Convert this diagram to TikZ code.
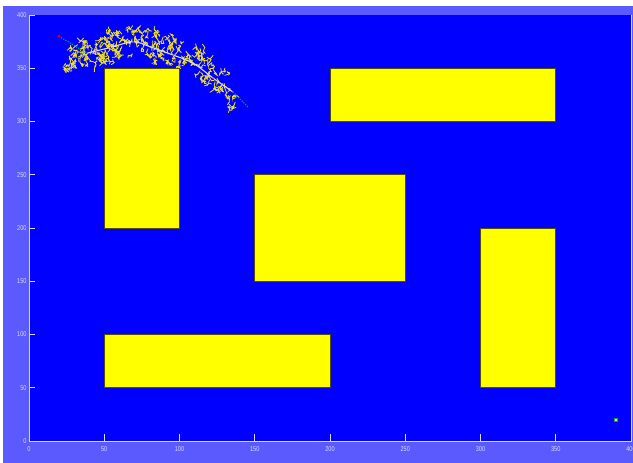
\documentclass[tikz,border=0pt]{standalone}
\usepackage{fontspec}
\newfontfamily\tickfont[FakeStretch=0.8]{Liberation Sans}
\definecolor{outerbg}{RGB}{90,90,255}
\definecolor{plotbg}{RGB}{0,0,255}
\definecolor{axisc}{RGB}{215,215,255}
\definecolor{obst}{RGB}{255,255,0}
\definecolor{obstedge}{RGB}{80,80,0}
\definecolor{treec}{RGB}{235,225,40}
\definecolor{pathg}{RGB}{0,170,90}
\tikzset{
  obstacle/.style={fill=obst, draw=obstedge, line width=0.6pt},
  axisline/.style={draw=axisc, line width=0.6pt},
  ticklabel/.style={text=axisc, font=\tickfont\fontsize{7}{8}\selectfont, inner sep=0pt},
  treeline/.style={draw=treec, line width=0.8pt, line cap=round},
  pathline/.style={draw=white!85!blue, line width=1.1pt},
  greendots/.style={draw=pathg, line width=1.2pt, dash pattern=on 1pt off 1.5pt},
  reddot/.style={fill=red!85!black, circle, inner sep=0pt, minimum size=2pt}
}
\begin{document}
\begin{tikzpicture}[x=1pt,y=1pt]
\useasboundingbox (0,0) rectangle (633,463);
\fill[white] (0,0) rectangle (633,463);
\fill[outerbg] (3,0) rectangle (633,457);
\begin{scope}[shift={(29pt,22pt)}, x=1.505pt, y=1.065pt]
  \fill[plotbg] (0,0) rectangle (400,400);
  % exploration tree
  \pgfmathsetseed{23}
  \foreach \k in {1,...,190}{
    \pgfmathsetmacro\cx{24+rnd*114}
    \pgfmathsetmacro\cy{375-0.0105*(\cx-69)^2+(rnd-0.55)*30}
    \draw[treeline] (\cx,\cy) -- ++(rand*2,rand*3.5) coordinate (b1) -- ++(rand*2,rand*3.5) -- ++(rand*2,rand*3.5);
    \draw[treeline] (b1) -- ++(rand*2,rand*3.5);
    \draw[treeline] (\cx,\cy) -- ++(rand*2,rand*3.5);
  }
  % obstacles
  \draw[obstacle] (50,200) rectangle (100,350);
  \draw[obstacle] (200,300) rectangle (350,350);
  \draw[obstacle] (150,150) rectangle (250,250);
  \draw[obstacle] (300,50) rectangle (350,200);
  \draw[obstacle] (50,50) rectangle (200,100);
  % path
  \coordinate (start) at (20,380);
  \coordinate (p1) at (38.3,364.0);
  \coordinate (p2) at (54,369.5);
  \coordinate (p3) at (69.3,374.9);
  \coordinate (p4) at (80.4,370.2);
  \coordinate (p5) at (95.7,362.4);
  \coordinate (p6) at (109.0,354.9);
  \coordinate (p7) at (122.3,340.8);
  \coordinate (p8) at (135.5,327.7);
  \coordinate (pend) at (145.5,313.6);
  \draw[greendots] (start) -- (p1);
  \draw[greendots] (p8) -- (pend);
  \draw[pathline] plot[smooth] coordinates {(38.3,364.0) (54,369.5) (69.3,374.9) (80.4,370.2) (95.7,362.4) (109.0,354.9) (122.3,340.8) (135.5,327.7)};
  \foreach \p in {p2,p3,p5,p7,p8}{\node[reddot, minimum size=1.6pt] at (\p) {};}
  \node[reddot, minimum size=3pt] (startdot) at (start) {};
  \node[fill=yellow, draw=pathg, line width=0.4pt, inner sep=0pt, minimum size=3pt] (goal) at (390,20) {};
  % axes
  \draw[axisline] (0,400) -- (0,0) -- (400,0) -- (400,400);
  \foreach \v in {0,50,...,400}{
    \draw[axisline] (0,\v) -- ++(6pt,0);
    \node[ticklabel, anchor=east, xshift=-2.3pt] (yl\v) at (0,\v) {\v};
  }
  \foreach \v in {50,100,...,350}{
    \draw[axisline] (\v,0) -- ++(0,7pt);
  }
  \foreach \v in {0,50,...,400}{
    \node[ticklabel, anchor=north, yshift=-5.5pt] (xl\v) at (\v,0) {\v};
  }
\end{scope}
\end{tikzpicture}
\end{document}
